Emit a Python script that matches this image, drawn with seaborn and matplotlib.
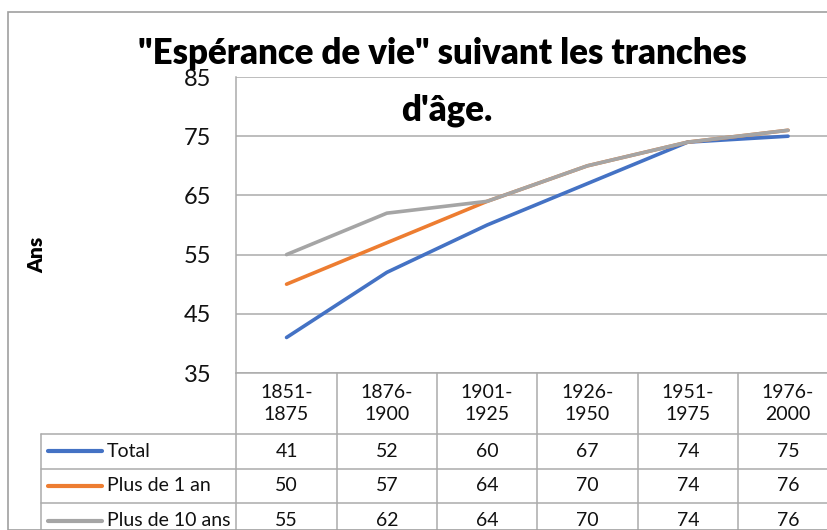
import matplotlib

matplotlib.use("Agg")
import matplotlib.pyplot as plt
import pandas as pd
import seaborn as sns
from matplotlib.patches import Rectangle

periods = ["1851-\n1875", "1876-\n1900", "1901-\n1925", "1926-\n1950", "1951-\n1975", "1976-\n2000"]
series_names = ["Total", "Plus de 1 an", "Plus de 10 ans"]
total = [41, 52, 60, 67, 74, 75]
plus_1_an = [50, 57, 64, 70, 74, 76]
plus_10_ans = [55, 62, 64, 70, 74, 76]
y_ticks = [35, 45, 55, 65, 75, 85]

colors = ["#4472C4", "#ED7D31", "#A5A5A5"]
grid_color = "#ABABAB"

W, H = 827, 530
sns.set_theme(style="white")
plt.rcParams["font.family"] = ["Lato", "DejaVu Sans"]

fig = plt.figure(figsize=(W / 100, H / 100), dpi=100)

# px helpers
left_px, col_w = 236.4, 100.3
right_px = left_px + 6 * col_w
top_px, bot_px = 77, 373


def fx(px):
    return px / W


def fy(py):
    return 1 - py / H


ax = fig.add_axes([fx(left_px), fy(bot_px), fx(right_px - left_px), (bot_px - top_px) / H])

rows = []
for name, vals in zip(series_names, [total, plus_1_an, plus_10_ans]):
    for i, v in enumerate(vals):
        rows.append({"x": i, "Ans": v, "serie": name})
df = pd.DataFrame(rows)

sns.lineplot(
    ax=ax,
    data=df,
    x="x",
    y="Ans",
    hue="serie",
    hue_order=series_names,
    palette=colors,
    linewidth=2.6,
    legend=False,
)

ax.set_xlim(-0.5, 5.5)
ax.set_ylim(35, 85)
ax.set_yticks(y_ticks)
ax.set_yticklabels([str(t) for t in y_ticks], fontsize=17, color="#111111")
ax.tick_params(axis="y", length=0, pad=18)
ax.set_xticks([])
ax.set_xlabel("")
ax.set_ylabel("")
for t in y_ticks:
    ax.axhline(t, color=grid_color, lw=1.1, zorder=0)
for side in ["top", "right", "bottom"]:
    ax.spines[side].set_visible(False)
ax.spines["left"].set_color(grid_color)
ax.spines["left"].set_linewidth(1.1)

# data table below the plot
tab = fig.add_axes([fx(left_px), 0, fx(right_px - left_px), (H - bot_px) / H])
tab.set_xlim(-0.5, 5.5)
tab.set_ylim(H - bot_px, 0)
tab.axis("off")

header_h, row_h = 61, 34.6
legend_left = -0.5 - (left_px - 41) / col_w
line_kw = dict(color=grid_color, lw=1.1, clip_on=False)

tab.plot([-0.5, 5.5], [0, 0], **line_kw)
for k in range(7):
    tab.plot([k - 0.5, k - 0.5], [0, 200], **line_kw)
tab.plot([legend_left, legend_left], [header_h, 200], **line_kw)
for r in range(4):
    y = header_h + r * row_h
    tab.plot([legend_left, 5.5], [y, y], **line_kw)

for i, p in enumerate(periods):
    tab.text(i, header_h / 2, p, ha="center", va="center", fontsize=14, linespacing=1.35, color="#111111")

for r, (name, vals, c) in enumerate(zip(series_names, [total, plus_1_an, plus_10_ans], colors)):
    yc = header_h + (r + 0.5) * row_h
    tab.plot([legend_left + 7 / col_w, legend_left + 61 / col_w], [yc, yc], color=c, lw=3, clip_on=False,
             solid_capstyle="round")
    tab.text(legend_left + 66 / col_w, yc, name, ha="left", va="center", fontsize=14, color="#111111")
    for i, v in enumerate(vals):
        tab.text(i, yc, str(v), ha="center", va="center", fontsize=14, color="#111111")

# outer chart border
fig.patches.append(Rectangle((fx(8), 0), 1, fy(12), transform=fig.transFigure, fill=False,
                             edgecolor="#A0A0A0", lw=1.2))

fig.text(fx(442), fy(53), "\"Espérance de vie\" suivant les tranches", ha="center", va="center",
         fontsize=25, fontweight="heavy", color="black")
fig.text(fx(447), fy(110), "d'âge.", ha="center", va="center", fontsize=25, fontweight="heavy", color="black")
fig.text(fx(37), fy(255), "Ans", rotation=90, ha="center", va="center", fontsize=15, fontweight="heavy",
         color="black")

fig.savefig("out.png", dpi=100)
